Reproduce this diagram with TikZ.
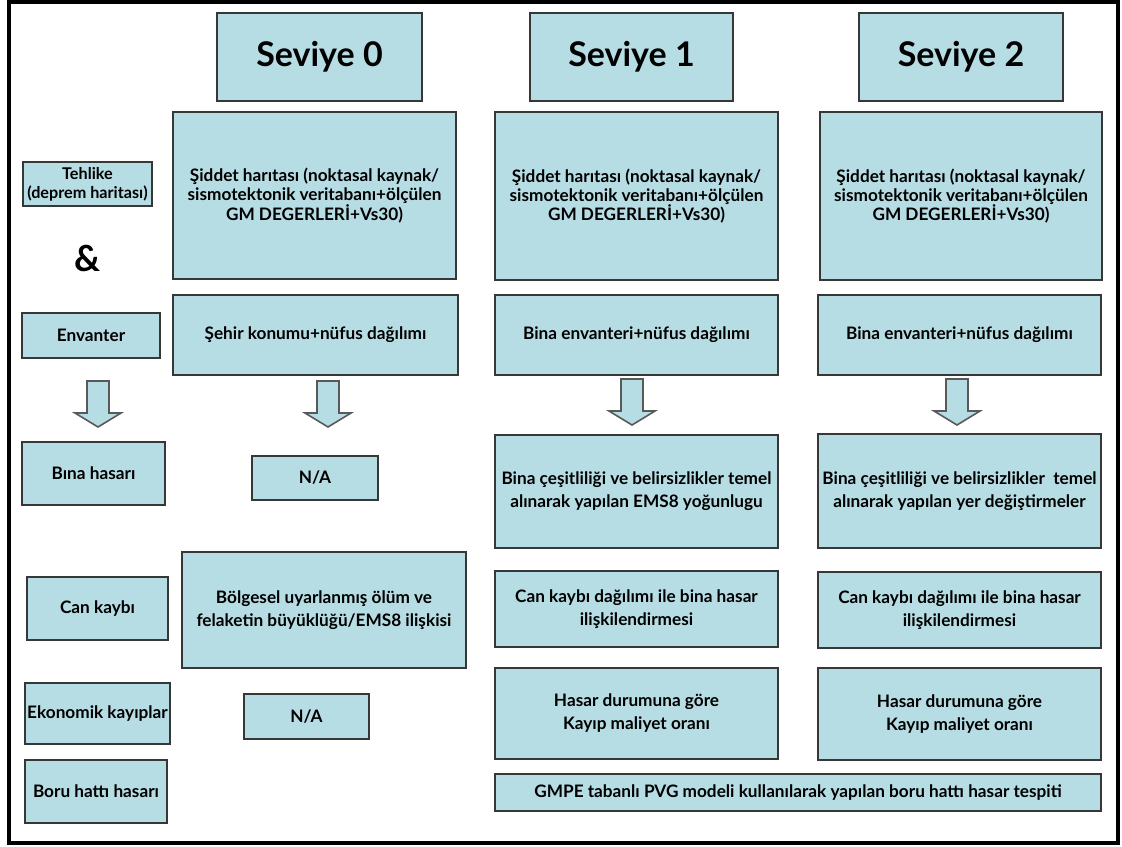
\documentclass[tikz,border=0pt]{standalone}
\usepackage{fontspec}
\setmainfont{Lato}
\usetikzlibrary{positioning}

\definecolor{kutumavi}{RGB}{183,221,228}
\definecolor{kutucizgi}{RGB}{55,55,55}

\tikzset{
  kutu/.style 2 args={draw=kutucizgi, fill=kutumavi, line width=1pt,
    minimum width=#1*0.5pt, minimum height=#2*0.5pt, inner sep=1pt,
    align=center, font=\fontsize{8.6}{11.5}\selectfont\bfseries},
  sik/.style={font=\fontsize{8.6}{9.6}\selectfont\bfseries},
  baslik/.style={font=\fontsize{17}{20}\selectfont\bfseries},
  blokok/.pic={
    \draw[draw=black!65, fill=kutumavi, line width=0.8pt]
      (-11,0) -- (11,0) -- (11,32) -- (23,32) -- (0,46) -- (-23,32) -- (-11,32) -- cycle;
  }
}

\begin{document}
\begin{tikzpicture}[x=0.5pt,y=-0.5pt]

\useasboundingbox (0,0) rectangle (1122,846);

% ----------------------------------------------------------
% Outer frame
% ----------------------------------------------------------
\draw[line width=2pt] (9,2) rectangle (1118,843);

% ----------------------------------------------------------
% Level headers
% ----------------------------------------------------------
\node[kutu={205}{88}, baslik] (sev0) at (319.5,57) {Seviye 0};
\node[kutu={203}{88}, baslik] (sev1) at (631.5,57) {Seviye 1};
\node[kutu={204}{88}, baslik] (sev2) at (961,57) {Seviye 2};

% ----------------------------------------------------------
% Row labels (left column)
% ----------------------------------------------------------
\node[kutu={129}{44}, font=\fontsize{8.1}{9.6}\selectfont\bfseries] (tehlike) at (87.5,184)
  {Tehlike\\(deprem haritası)};
\node[font=\fontsize{18}{20}\selectfont\bfseries] (ve) at (88,258) {\&};
\node[kutu={138}{45}] (envanter) at (91,335.5) {Envanter};
\node[kutu={143}{63}] (binahasari) at (93.5,473.5) {Bına hasarı};
\node[kutu={141}{63}] (cankaybi) at (97.5,608.5) {Can kaybı};
\node[kutu={141}{61}] (ekonomik) at (97.5,713.5) {Ekonomik kayıplar};
\node[kutu={142}{63}] (boru) at (96,791.5) {Boru hattı hasarı};

% ----------------------------------------------------------
% Seviye 0
% ----------------------------------------------------------
\node[kutu={283}{167}, sik] (sid0) at (314.5,195.5)
  {Şiddet harıtası (noktasal kaynak/\\sismotektonik veritabanı+ölçülen\\GM DEGERLERİ+Vs30)};
\node[kutu={285}{80}] (env0) at (315.5,335) {Şehir konumu+nüfus dağılımı};
\node[kutu={126}{44}] (na0) at (315,478) {N/A};
\node[kutu={284}{116}] (bolge0) at (324,610)
  {Bölgesel uyarlanmış ölüm ve\\felaketin büyüklüğü/EMS8 ilişkisi};
\node[kutu={125}{45}] (na1) at (306.5,716.5) {N/A};

% ----------------------------------------------------------
% Seviye 1
% ----------------------------------------------------------
\node[kutu={283}{168}, sik] (sid1) at (636.5,196)
  {Şiddet harıtası (noktasal kaynak/\\sismotektonik veritabanı+ölçülen\\GM DEGERLERİ+Vs30)};
\node[kutu={283}{80}] (env1) at (636.5,335) {Bina envanteri+nüfus dağılımı};
\node[kutu={283}{113}] (cesit1) at (636.5,491)
  {Bina çeşitliliği ve belirsizlikler temel\\alınarak yapılan EMS8 yoğunlugu};
\node[kutu={283}{76}] (can1) at (636.5,609)
  {Can kaybı dağılımı ile bina hasar\\ilişkilendirmesi};
\node[kutu={283}{91}] (hasar1) at (636.5,713)
  {Hasar durumuna göre\\Kayıp maliyet oranı};

% ----------------------------------------------------------
% Seviye 2
% ----------------------------------------------------------
\node[kutu={282}{168}, sik] (sid2) at (961,196)
  {Şiddet harıtası (noktasal kaynak/\\sismotektonik veritabanı+ölçülen\\GM DEGERLERİ+Vs30)};
\node[kutu={283}{80}] (env2) at (959.5,335) {Bina envanteri+nüfus dağılımı};
\node[kutu={283}{114}] (cesit2) at (959.5,491)
  {Bina çeşitliliği ve belirsizlikler\ \ temel\\alınarak yapılan yer değiştirmeler};
\node[kutu={283}{76}] (can2) at (959.5,610)
  {Can kaybı dağılımı ile bina hasar\\ilişkilendirmesi};
\node[kutu={283}{92}] (hasar2) at (959.5,714)
  {Hasar durumuna göre\\Kayıp maliyet oranı};

% shared pipeline row
\node[kutu={606}{37}] (gmpe) at (798,792.5)
  {GMPE tabanlı PVG modeli kullanılarak yapılan boru hattı hasar tespiti};

% ----------------------------------------------------------
% Block arrows
% ----------------------------------------------------------
\foreach \ust/\dx/\dy in {envanter/3.5/-11, env0/6.25/-2.5, env1/-2.25/-1.5, env2/-1.25/-1.5} {
  \pic at ([xshift=\dx pt, yshift=\dy pt]\ust.south) {blokok};
}

\end{tikzpicture}
\end{document}
